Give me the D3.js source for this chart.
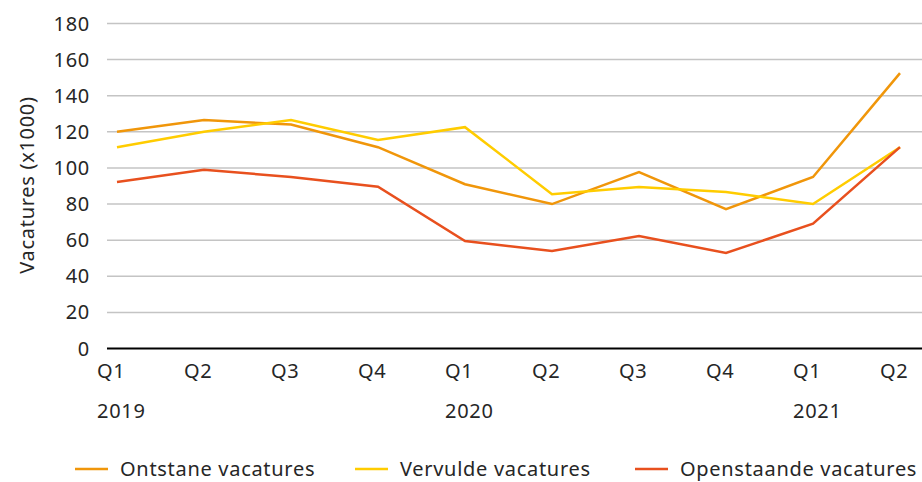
<!DOCTYPE html>
<html>
<head>
<meta charset="utf-8">
<script src="https://cdn.jsdelivr.net/npm/d3@7"></script>
<style>
  body { margin: 0; background: #fff; }
  text { font-family: "Noto Sans", sans-serif; fill: #262626; letter-spacing: 0.7px; }
</style>
</head>
<body>
<div id="chart"></div>
<script>
var quarters = ["Q1", "Q2", "Q3", "Q4", "Q1", "Q2", "Q3", "Q4", "Q1", "Q2"];
var years = ["2019", "", "", "", "2020", "", "", "", "2021", ""];
var ontstane = [120, 126.5, 124, 111.5, 91, 80, 97.7, 77.2, 95, 152.5];
var vervulde = [111.5, 120, 126.5, 115.5, 122.6, 85.5, 89.4, 86.7, 80, 111.5];
var openstaande = [92.2, 99, 95, 89.6, 59.5, 54, 62.3, 52.9, 69.1, 111.5];
var seriesNames = ["Ontstane vacatures", "Vervulde vacatures", "Openstaande vacatures"];
var yTicks = [0, 20, 40, 60, 80, 100, 120, 140, 160, 180];

var width = 922, height = 482;
var colors = ["#f0960a", "#ffcc00", "#e8501e"];

var svg = d3.select("#chart").append("svg")
    .attr("width", width)
    .attr("height", height);

var x = d3.scalePoint()
    .domain(d3.range(quarters.length))
    .range([117, 900]);

var y = d3.scaleLinear()
    .domain([0, 180])
    .range([348.5, 23.5]);

// gridlines
svg.append("g").selectAll("line")
    .data(yTicks.slice(1))
    .enter().append("line")
    .attr("x1", 107).attr("x2", 922)
    .attr("y1", function(d) { return y(d); })
    .attr("y2", function(d) { return y(d); })
    .attr("stroke", "#c4c4c4")
    .attr("stroke-width", 1.5);

// y labels
svg.append("g").selectAll("text")
    .data(yTicks)
    .enter().append("text")
    .attr("x", 90)
    .attr("y", function(d) { return y(d); })
    .attr("dy", "0.35em")
    .attr("text-anchor", "end")
    .style("font-size", "20px")
    .text(function(d) { return d; });

svg.append("text")
    .attr("transform", "translate(34,185) rotate(-90)")
    .attr("text-anchor", "middle")
    .style("font-size", "20px")
    .text("Vacatures (x1000)");

// x labels
svg.append("g").selectAll("text")
    .data(quarters)
    .enter().append("text")
    .attr("x", function(d, i) { return x(i) - 20; })
    .attr("y", 378)
    .style("font-size", "20px")
    .text(function(d) { return d; });

svg.append("g").selectAll("text")
    .data(years)
    .enter().append("text")
    .attr("x", function(d, i) { return x(i) - 20; })
    .attr("y", 418)
    .style("font-size", "20px")
    .text(function(d) { return d; });

// lines
var line = d3.line()
    .x(function(d, i) { return x(i); })
    .y(function(d) { return y(d); });

[ontstane, vervulde, openstaande].forEach(function(s, k) {
    svg.append("path")
        .datum(s)
        .attr("d", line)
        .attr("fill", "none")
        .attr("stroke", colors[k])
        .attr("stroke-width", 2.5);
});

// zero axis
svg.append("line")
    .attr("x1", 107).attr("x2", 922)
    .attr("y1", y(0)).attr("y2", y(0))
    .attr("stroke", "#000")
    .attr("stroke-width", 2);

// legend
var legendX = [75, 355, 635];
var legend = svg.selectAll(".legend")
    .data(seriesNames)
    .enter().append("g")
    .attr("class", "legend")
    .attr("transform", function(d, i) { return "translate(" + legendX[i] + ",469)"; });

legend.append("line")
    .attr("x1", 0).attr("x2", 33)
    .attr("stroke", function(d, i) { return colors[i]; })
    .attr("stroke-width", 2.5);

legend.append("text")
    .attr("x", 45)
    .attr("dy", "0.35em")
    .style("font-size", "20px")
    .text(function(d) { return d; });
</script>
</body>
</html>
